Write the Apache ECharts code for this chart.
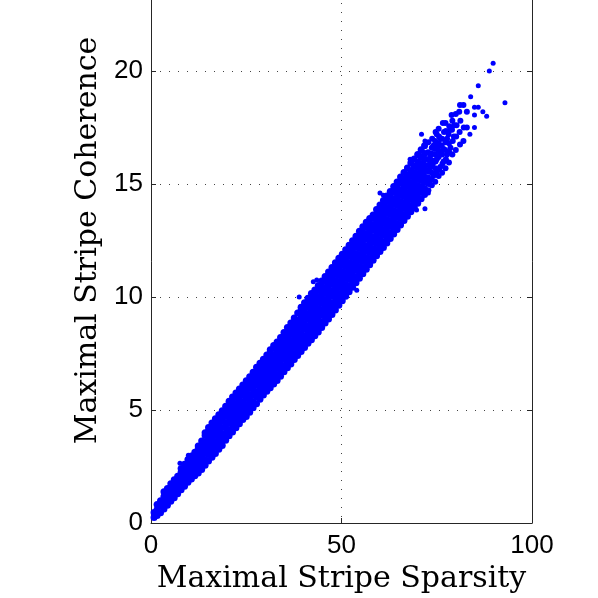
<!DOCTYPE html>
<html>
<head>
<meta charset="utf-8">
<script src="https://cdn.jsdelivr.net/npm/echarts@6.0.0/dist/echarts.min.js"></script>
<style>
body { margin: 0; background: #ffffff; }
#scatter_main { width: 598px; height: 598px; }
</style>
</head>
<body>
<div id="scatter_main"></div>
<script>
var chart = echarts.init(document.getElementById('scatter_main'));

// axis ticks
var xTicks = [0, 50, 100];
var yTicks = [0, 5, 10, 15, 20, 25];

// band columns: [sparsity, coherence, coherence, ...]
var bandLow = [
    [0.8, 0.24, 0.47],
    [1.6, 0.33, 0.6, 0.82],
    [2.5, 0.45, 0.74, 0.99],
    [3.4, 0.62, 0.9, 1.17, 1.38],
    [4.3, 0.79, 1.07, 1.31, 1.53],
    [5.2, 0.96, 1.23, 1.49, 1.74],
    [6.1, 1.12, 1.36, 1.65, 1.91],
    [7.0, 1.29, 1.57, 1.83, 2.07],
    [7.9, 1.47, 1.72, 2.01, 2.25, 2.41],
    [8.8, 1.63, 1.91, 2.17, 2.42, 2.6],
    [9.7, 1.8, 2.06, 2.35, 2.61, 2.81],
    [10.6, 1.95, 2.23, 2.48, 2.77, 2.97],
    [11.5, 2.09, 2.37, 2.63, 2.88, 3.13],
    [12.4, 2.21, 2.49, 2.75, 3.03, 3.28, 3.41],
    [13.3, 2.37, 2.65, 2.92, 3.17, 3.45, 3.63],
    [14.2, 2.55, 2.81, 3.09, 3.35, 3.6, 3.87, 3.99],
    [15.1, 2.74, 3.03, 3.27, 3.55, 3.81, 4.07, 4.23],
    [16.0, 2.91, 3.17, 3.45, 3.71, 3.99, 4.25, 4.43],
    [16.9, 3.08, 3.37, 3.61, 3.89, 4.15, 4.41, 4.61],
    [17.8, 3.26, 3.53, 3.81, 4.07, 4.33, 4.59, 4.79]
];

var bandMidLow = [
    [18.7, 3.43, 3.71, 3.95, 4.23, 4.51, 4.77, 4.97],
    [19.6, 3.66, 3.93, 4.21, 4.45, 4.73, 4.99, 5.17],
    [20.5, 3.86, 4.13, 4.41, 4.67, 4.91, 5.19, 5.39],
    [21.4, 4.03, 4.31, 4.55, 4.83, 5.11, 5.35, 5.57],
    [22.3, 4.21, 4.47, 4.75, 5.01, 5.27, 5.55, 5.75],
    [23.2, 4.39, 4.67, 4.91, 5.19, 5.45, 5.71, 5.93],
    [24.1, 4.58, 4.85, 5.13, 5.37, 5.65, 5.89, 6.11],
    [25.0, 4.71, 4.99, 5.23, 5.51, 5.77, 6.05, 6.29],
    [25.9, 4.9, 5.17, 5.45, 5.69, 5.97, 6.21, 6.47],
    [26.8, 5.1, 5.37, 5.65, 5.91, 6.15, 6.43, 6.67],
    [27.7, 5.28, 5.57, 5.81, 6.09, 6.35, 6.61, 6.89],
    [28.6, 5.48, 5.75, 6.03, 6.27, 6.55, 6.81, 7.07],
    [29.5, 5.66, 5.95, 6.19, 6.47, 6.71, 6.99, 7.25],
    [30.4, 5.83, 6.11, 6.37, 6.61, 6.89, 7.15, 7.43],
    [31.3, 5.99, 6.25, 6.53, 6.79, 7.03, 7.31, 7.55, 7.67],
    [32.2, 6.15, 6.43, 6.67, 6.95, 7.21, 7.45, 7.73, 7.85],
    [33.1, 6.31, 6.57, 6.85, 7.09, 7.37, 7.63, 7.87, 8.01],
    [34.0, 6.49, 6.77, 7.01, 7.29, 7.53, 7.81, 8.05, 8.21],
    [34.9, 6.69, 6.95, 7.23, 7.47, 7.75, 7.99, 8.27, 8.43],
    [35.8, 6.87, 7.15, 7.39, 7.67, 7.91, 8.19, 8.43, 8.65],
    [36.7, 7.03, 7.31, 7.55, 7.83, 8.07, 8.35, 8.61, 8.85]
];

var bandMidHigh = [
    [37.6, 7.23, 7.49, 7.77, 8.01, 8.29, 8.53, 8.81, 9.07],
    [38.5, 7.41, 7.69, 7.93, 8.21, 8.45, 8.73, 8.97, 9.29],
    [39.4, 7.59, 7.85, 8.13, 8.37, 8.65, 8.89, 9.17, 9.41, 9.55],
    [40.3, 7.77, 8.05, 8.29, 8.57, 8.81, 9.09, 9.33, 9.61, 9.75],
    [41.2, 7.95, 8.21, 8.49, 8.73, 9.01, 9.25, 9.53, 9.77, 9.95],
    [42.1, 8.11, 8.39, 8.63, 8.91, 9.15, 9.43, 9.67, 9.95, 10.15],
    [43.0, 8.29, 8.55, 8.83, 9.07, 9.35, 9.59, 9.87, 10.11, 10.31],
    [43.9, 8.45, 8.73, 8.97, 9.25, 9.49, 9.77, 10.01, 10.29, 10.51],
    [44.8, 8.65, 8.91, 9.19, 9.43, 9.71, 9.95, 10.23, 10.47, 10.71],
    [45.7, 8.85, 9.13, 9.37, 9.65, 9.89, 10.17, 10.41, 10.69, 10.91],
    [46.6, 9.03, 9.29, 9.57, 9.81, 10.09, 10.33, 10.61, 10.85, 11.11],
    [47.5, 9.23, 9.51, 9.75, 10.03, 10.27, 10.55, 10.79, 11.07, 11.31],
    [48.4, 9.43, 9.69, 9.97, 10.21, 10.49, 10.73, 11.01, 11.25, 11.51],
    [49.3, 9.63, 9.91, 10.15, 10.43, 10.67, 10.95, 11.19, 11.47, 11.71],
    [50.2, 9.83, 10.09, 10.37, 10.61, 10.89, 11.13, 11.41, 11.65, 11.89],
    [51.1, 10.03, 10.31, 10.55, 10.83, 11.07, 11.35, 11.59, 11.87, 12.09],
    [52.0, 10.23, 10.49, 10.77, 11.01, 11.29, 11.53, 11.81, 12.05, 12.29],
    [52.9, 10.43, 10.71, 10.95, 11.23, 11.47, 11.75, 11.99, 12.27, 12.49],
    [53.8, 10.63, 10.89, 11.17, 11.41, 11.69, 11.93, 12.21, 12.45, 12.69],
    [54.7, 10.83, 11.11, 11.35, 11.63, 11.87, 12.15, 12.39, 12.67, 12.91]
];

var bandHigh = [
    [55.6, 11.03, 11.29, 11.57, 11.81, 12.09, 12.33, 12.61, 12.85, 13.11],
    [56.5, 11.23, 11.51, 11.75, 12.03, 12.27, 12.55, 12.79, 13.07, 13.31],
    [57.4, 11.43, 11.69, 11.97, 12.21, 12.49, 12.73, 13.01, 13.25, 13.47],
    [58.3, 11.63, 11.91, 12.15, 12.43, 12.67, 12.95, 13.19, 13.47, 13.63],
    [59.2, 11.83, 12.09, 12.37, 12.61, 12.89, 13.13, 13.41, 13.65, 13.87],
    [60.1, 12.01, 12.29, 12.53, 12.81, 13.05, 13.33, 13.57, 13.85, 14.07],
    [61.0, 12.19, 12.45, 12.73, 12.97, 13.25, 13.49, 13.77, 14.01, 14.27],
    [61.9, 12.39, 12.67, 12.91, 13.19, 13.43, 13.71, 13.95, 14.23, 14.47],
    [62.8, 12.59, 12.85, 13.13, 13.37, 13.65, 13.89, 14.17, 14.41, 14.67],
    [63.7, 12.79, 13.07, 13.31, 13.59, 13.83, 14.11, 14.35, 14.63, 14.89],
    [64.6, 12.99, 13.25, 13.53, 13.77, 14.05, 14.29, 14.57, 14.81, 15.09],
    [65.5, 13.19, 13.47, 13.71, 13.99, 14.23, 14.51, 14.75, 15.03, 15.31],
    [66.4, 13.39, 13.65, 13.93, 14.17, 14.45, 14.69, 14.97, 15.21, 15.51],
    [67.3, 13.57, 13.85, 14.09, 14.37, 14.61, 14.89, 15.13, 15.41, 15.71],
    [68.2, 13.77, 14.03, 14.31, 14.55, 14.83, 15.07, 15.35, 15.59, 15.93],
    [69.1, 13.95, 14.23, 14.47, 14.75, 14.99, 15.27, 15.51, 15.79, 16.11],
    [70.0, 14.15, 14.41, 14.69, 14.93, 15.21, 15.45, 15.73, 15.97, 16.31],
    [70.9, 14.35, 14.63, 14.87, 15.15, 15.39, 15.67, 15.91, 16.19, 16.51],
    [71.8, 14.53, 14.79, 15.07, 15.31, 15.59, 15.83, 16.11, 16.35, 16.69]
];

// thinner top end of the cloud
var topPoints = [
    [72.8, 14.72], [72.8, 15.0], [72.7, 15.3], [72.8, 15.55], [72.9, 15.85], [72.8, 16.1], [72.7, 16.4], [72.8, 16.85],
    [73.2, 15.15], [73.2, 15.7], [73.3, 16.25],
    [73.7, 14.95], [73.6, 15.2], [73.7, 15.5], [73.8, 15.8], [73.7, 16.05], [73.6, 16.35], [73.7, 16.6], [73.8, 17.0],
    [74.1, 15.35], [74.1, 15.95], [74.2, 16.7],
    [74.6, 15.1], [74.5, 15.45], [74.6, 15.7], [74.7, 16.0], [74.6, 16.3], [74.5, 16.55], [74.6, 16.9], [74.7, 17.3],
    [75.0, 15.55], [75.0, 16.1], [75.1, 16.65], [75.0, 17.2],
    [75.5, 15.35], [75.6, 15.65], [75.5, 16.2], [75.4, 16.5], [75.5, 16.8], [75.6, 17.1], [75.5, 17.45],
    [75.9, 15.75], [75.9, 16.4], [76.0, 17.0],
    [76.4, 15.5], [76.5, 15.9], [76.4, 16.3], [76.3, 16.7], [76.4, 17.0], [76.6, 17.7],
    [76.8, 16.0], [76.8, 16.55], [76.9, 17.3],
    [77.3, 15.7], [77.4, 16.1], [77.2, 16.5], [77.3, 16.85], [77.4, 17.35], [77.3, 17.7],
    [77.7, 16.3], [77.7, 17.0],
    [78.2, 15.95], [78.3, 16.4], [78.2, 16.8], [78.1, 17.2], [78.3, 17.55], [78.9, 18.05],
    [78.6, 16.6], [78.6, 17.4],
    [79.1, 16.3], [79.2, 16.9], [79.0, 17.4], [79.1, 17.8], [80.0, 18.1],
    [79.5, 17.1], [79.6, 17.6],
    [80.0, 16.5], [80.1, 17.1], [80.2, 17.6], [80.9, 18.2],
    [81.1, 16.75], [81.0, 17.3], [81.2, 17.8], [81.1, 18.5], [82.0, 18.5],
    [82.0, 16.9], [82.1, 17.5], [82.9, 17.5], [82.9, 18.2]
];

// isolated points away from the core
var strayPoints = [
    [7.6, 2.64], [9.8, 3.0], [13.3, 2.42], [25.1, 4.78], [38.9, 10.0], [42.6, 10.68],
    [43.5, 10.75], [54.0, 10.3], [60.1, 14.6], [61.0, 14.5], [69.7, 13.85], [71.9, 13.9],
    [72.8, 14.6], [71.0, 17.2], [71.9, 16.9], [68.0, 16.1], [83.7, 17.2],
    [84.9, 17.5], [84.9, 18.05], [84.9, 18.4], [85.9, 18.4], [87.1, 18.2],
    [88.1, 18.0], [83.9, 18.86], [85.9, 19.35], [88.8, 20.0], [89.8, 20.34], [92.9, 18.6]
];

// dense core: unpack the columns into [x, y] pairs
var bandPoints = [];
[bandLow, bandMidLow, bandMidHigh, bandHigh].forEach(function (seg) {
    seg.forEach(function (col) {
        for (var i = 1; i < col.length; i++) {
            bandPoints.push([col[0], col[i]]);
        }
    });
});

var dotted = {
    show: true,
    lineStyle: {
        color: '#444444',
        width: 1,
        type: [1, 8]
    }
};

function dots(data, size) {
    return {
        type: 'scatter',
        symbol: 'circle',
        symbolSize: size,
        itemStyle: { color: '#0000ff', opacity: 1 },
        data: data
    };
}

option = {
    animation: false,
    backgroundColor: '#ffffff',
    grid: {
        left: 151,
        right: 66,
        top: -42,
        bottom: 75,
        outerBoundsMode: 'none'
    },
    xAxis: {
        type: 'value',
        min: xTicks[0],
        max: xTicks[xTicks.length - 1],
        interval: 50,
        name: 'Maximal Stripe Sparsity',
        nameLocation: 'middle',
        nameGap: 38,
        nameTextStyle: {
            fontFamily: 'DejaVu Serif',
            fontSize: 30,
            color: '#000000'
        },
        axisLine: {
            show: true,
            lineStyle: { color: '#262626', width: 1 }
        },
        axisTick: {
            show: true,
            inside: true,
            length: 5,
            lineStyle: { color: '#262626' }
        },
        axisLabel: {
            margin: 10,
            fontFamily: 'Liberation Sans',
            fontSize: 26,
            color: '#000000'
        },
        splitLine: dotted
    },
    yAxis: [
        {
            type: 'value',
            min: yTicks[0],
            max: yTicks[yTicks.length - 1],
            interval: 5,
            name: 'Maximal Stripe Coherence',
            nameLocation: 'middle',
            nameGap: 45,
            nameTextStyle: {
                fontFamily: 'DejaVu Serif',
                fontSize: 30,
                color: '#000000'
            },
            axisLine: {
                show: true,
                lineStyle: { color: '#262626', width: 1 }
            },
            axisTick: {
                show: true,
                inside: true,
                length: 5,
                lineStyle: { color: '#262626' }
            },
            axisLabel: {
                margin: 8,
                fontFamily: 'Liberation Sans',
                fontSize: 26,
                color: '#000000'
            },
            splitLine: dotted
        },
        {
            type: 'value',
            position: 'right',
            min: yTicks[0],
            max: yTicks[yTicks.length - 1],
            interval: 5,
            axisLine: {
                show: true,
                lineStyle: { color: '#262626', width: 1 }
            },
            axisTick: {
                show: true,
                inside: true,
                length: 5,
                lineStyle: { color: '#262626' }
            },
            axisLabel: { show: false },
            splitLine: { show: false }
        }
    ],
    series: [
        dots(bandPoints, 7),
        dots(topPoints, 6),
        dots(strayPoints, 5)
    ]
};

chart.setOption(option);
</script>
</body>
</html>
